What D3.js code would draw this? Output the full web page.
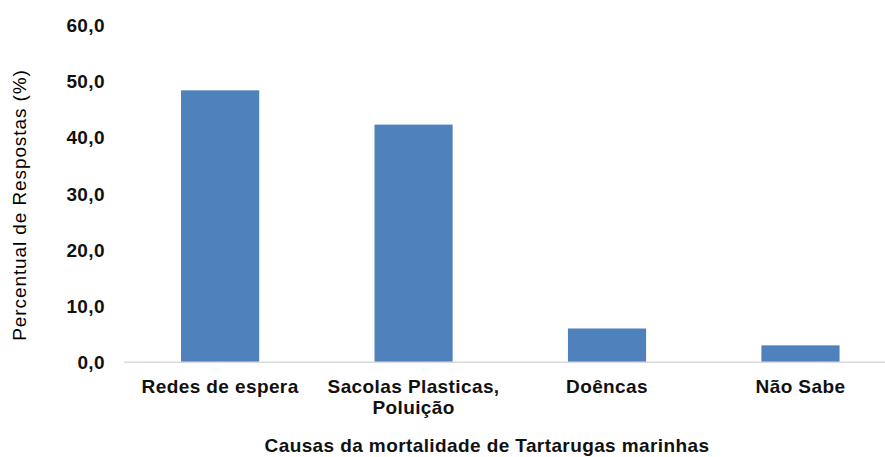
<!DOCTYPE html>
<html>
<head>
<meta charset="utf-8">
<script src="https://cdn.jsdelivr.net/npm/d3@7"></script>
<style>
  html, body { margin: 0; padding: 0; background: #fff; }
  svg { display: block; }
  text { font-family: "Liberation Sans", Arial, sans-serif; fill: #111; }
</style>
</head>
<body>
<svg id="chart" width="885" height="457"></svg>
<script>
// Causes of sea turtle mortality, share of responses (%)
const categories = ["Redes de espera", "Sacolas Plasticas,\nPoluição", "Doêncas", "Não Sabe"];
const values = [48.4, 42.3, 6.0, 3.0];
const yTicks = [0, 10, 20, 30, 40, 50, 60];
const yTitle = "Percentual de Respostas (%)";
const xTitle = "Causas da mortalidade de Tartarugas marinhas";

const svg = d3.select("#chart");

const x = d3.scaleBand()
  .domain(categories)
  .range([123.4, 897.2])
  .paddingInner(0.596)
  .paddingOuter(0.298);

const y = d3.scaleLinear()
  .domain([0, 60])
  .range([362.2, 25.2]);

const fmt = v => d3.format(".1f")(v).replace(".", ",");

// bars
svg.append("g").selectAll("rect")
  .data(categories)
  .join("rect")
  .attr("x", d => x(d))
  .attr("width", x.bandwidth())
  .attr("y", (d, i) => y(values[i]))
  .attr("height", (d, i) => y(0) - y(values[i]))
  .attr("fill", "#4f81bd");

// category axis line
svg.append("line")
  .attr("x1", 124).attr("x2", 897)
  .attr("y1", y(0)).attr("y2", y(0))
  .attr("stroke", "#d9d9d9")
  .attr("stroke-width", 1.5);

// value axis labels
svg.append("g").selectAll("text")
  .data(yTicks)
  .join("text")
  .attr("x", 105)
  .attr("y", d => y(d))
  .attr("dy", "0.36em")
  .attr("text-anchor", "end")
  .style("font-size", "19px")
  .style("font-weight", "bold")
  .style("letter-spacing", "0.4px")
  .text(fmt);

// category labels (wrapped on line breaks)
const catLabels = svg.append("g").selectAll("text")
  .data(categories)
  .join("text")
  .attr("text-anchor", "middle")
  .style("font-size", "19px")
  .style("font-weight", "bold")
  .style("letter-spacing", "0.4px");

catLabels.each(function(d) {
  const t = d3.select(this);
  const cx = x(d) + x.bandwidth() / 2;
  d.split("\n").forEach((line, i) => {
    t.append("tspan")
      .attr("x", cx)
      .attr("y", 393 + i * 20.5)
      .text(line);
  });
});

// axis titles
svg.append("text")
  .attr("transform", "translate(26,205) rotate(-90)")
  .attr("text-anchor", "middle")
  .style("font-size", "19px")
  .style("letter-spacing", "0.9px")
  .style("fill", "#000")
  .text(yTitle);

svg.append("text")
  .attr("x", 487)
  .attr("y", 452)
  .attr("text-anchor", "middle")
  .style("font-size", "19px")
  .style("font-weight", "bold")
  .style("letter-spacing", "0.4px")
  .text(xTitle);
</script>
</body>
</html>
